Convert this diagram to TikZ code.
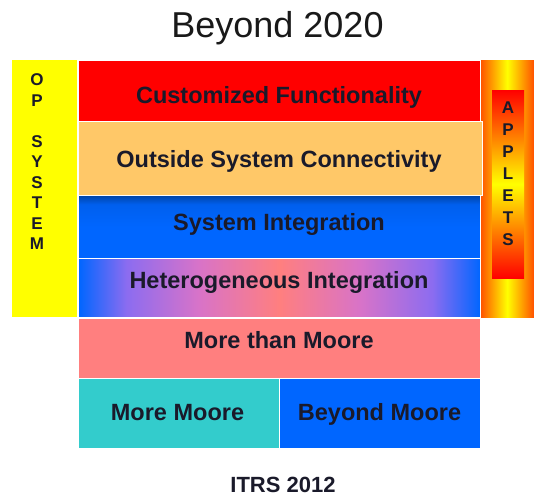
\documentclass[tikz,border=0pt]{standalone}
\usepackage{fontspec}
\setmainfont{Liberation Sans}
\definecolor{txt}{HTML}{1A1A2A}
\definecolor{rowred}{HTML}{FF0000}
\definecolor{roworange}{HTML}{FFC868}
\definecolor{darkblue}{HTML}{0044A8}
\definecolor{midblue}{HTML}{0066FF}
\definecolor{salmon}{HTML}{FF7F7F}
\definecolor{teal}{HTML}{33CCCC}
\definecolor{opyellow}{HTML}{FFFF00}
\definecolor{appedge}{HTML}{FF5000}
\definecolor{hviolet}{HTML}{8C6CF0}
\definecolor{hpink}{HTML}{D873C8}
\pgfdeclarehorizontalshading{hetshade}{100bp}{
  color(0bp)=(midblue); color(25bp)=(midblue); color(31bp)=(hviolet);
  color(40bp)=(hpink); color(50bp)=(salmon); color(60bp)=(hpink);
  color(69bp)=(hviolet); color(75bp)=(midblue); color(100bp)=(midblue)}
\pgfdeclareverticalshading{sishade}{100bp}{
  color(0bp)=(midblue); color(25bp)=(midblue); color(50bp)=(midblue);
  color(68bp)=(midblue!80!darkblue); color(75bp)=(darkblue); color(100bp)=(darkblue)}
\tikzset{
  layer/.style={draw=white, line width=1pt, anchor=north west, inner sep=0pt},
  ltext/.style={anchor=base, inner sep=0pt, font=\fontsize{23.5}{28}\selectfont\bfseries, text=txt},
  sidebar/.style={anchor=north west, inner sep=0pt},
  vlabel/.style={text=txt, align=center, inner sep=0pt}
}
\begin{document}
\begin{tikzpicture}[x=1pt,y=-1pt]
\useasboundingbox (0,0) rectangle (534,497);
\node[anchor=base, inner sep=0pt, font=\fontsize{36}{40}\selectfont, text=black!90] (title) at (277.5,38) {Beyond 2020};
% side bars
\node[sidebar, fill=opyellow, minimum width=65pt, minimum height=257pt] (op) at (12,60) {};
\node[vlabel, font=\fontsize{17}{20.5}\selectfont\bfseries] (oplab) at (37,162) {O\\P\\[20.5pt]S\\Y\\S\\T\\E\\M};
\node[sidebar, left color=appedge, right color=appedge, middle color=opyellow, minimum width=54pt, minimum height=257pt] (app) at (480,60) {};
\node[sidebar, top color=rowred, bottom color=rowred, middle color=opyellow, minimum width=32pt, minimum height=188pt] (appin) at (492,90) {};
\node[vlabel, font=\fontsize{17}{22}\selectfont\bfseries] (applab) at (508,174) {A\\P\\P\\L\\E\\T\\S};
% layers
\node[layer, fill=rowred, minimum width=402pt, minimum height=61pt] (cf) at (78,60) {};
\node[layer, fill=roworange, minimum width=404pt, minimum height=74pt] (osc) at (78,121) {};
\node[layer, shading=sishade, minimum width=402pt, minimum height=63pt] (si) at (78,195) {};
\node[layer, shading=hetshade, minimum width=402pt, minimum height=59pt] (hi) at (78,258) {};
\node[layer, fill=salmon, minimum width=402pt, minimum height=60pt] (mtm) at (78,318) {};
\node[layer, fill=teal, minimum width=201pt, minimum height=70pt] (mm) at (78,378) {};
\node[layer, fill=midblue, minimum width=201pt, minimum height=70pt] (bm) at (279,378) {};
% layer texts
\node[ltext] (cf-t) at (279,104) {Customized Functionality};
\node[ltext] (osc-t) at (279,167) {Outside System Connectivity};
\node[ltext] (si-t) at (279,230) {System Integration};
\node[ltext] (hi-t) at (279,288) {Heterogeneous Integration};
\node[ltext] (mtm-t) at (279,348) {More than Moore};
\node[ltext] (mm-t) at (177.5,420) {More Moore};
\node[ltext] (bm-t) at (379.5,420) {Beyond Moore};
\node[anchor=base, inner sep=0pt, font=\fontsize{22}{26}\selectfont\bfseries, text=txt] (itrs) at (283,492) {ITRS 2012};
\end{tikzpicture}
\end{document}
